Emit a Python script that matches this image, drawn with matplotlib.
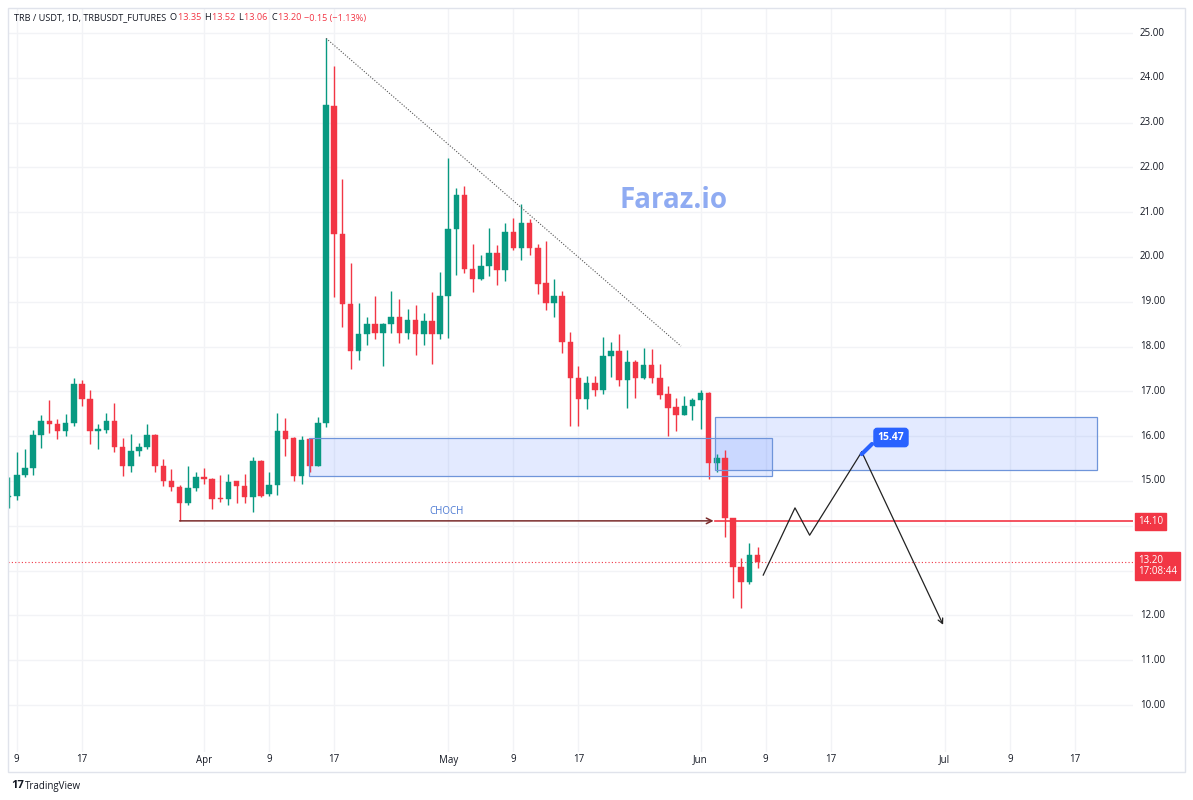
import matplotlib
matplotlib.use("Agg")
import matplotlib.pyplot as plt
from matplotlib.patches import Rectangle
import matplotlib.transforms as mtransforms

plt.rcParams['font.family'] = ['Open Sans', 'DejaVu Sans']

# ---------------- data (day index 0 = Mar 9) ----------------
days = list(range(-1, 92))
opens = [14.64, 14.66, 15.14, 15.30, 16.02, 16.35, 16.28, 16.11, 16.29, 17.17,
         16.84, 16.12, 16.14, 16.33, 15.76, 15.33, 15.66, 15.76, 16.03, 15.34,
         15.01, 14.87, 14.51, 14.84, 15.10, 15.04, 14.60, 14.59, 14.99, 14.89,
         14.64, 15.44, 14.70, 14.90, 16.12, 15.97, 15.12, 15.93, 15.33, 16.29,
         23.37, 20.51, 18.96, 17.91, 18.28, 18.50, 18.31, 18.50, 18.66, 18.31,
         18.59, 18.29, 18.58, 18.28, 19.13, 20.62, 21.38, 19.74, 19.50, 19.80,
         20.09, 19.71, 20.56, 20.21, 20.76, 20.21, 19.41, 18.98, 19.12, 18.11,
         17.29, 16.84, 17.19, 17.03, 17.79, 17.91, 17.25, 17.65, 17.30, 17.58,
         17.29, 16.94, 16.65, 16.48, 16.67, 16.80, 16.97, 15.41, 15.52, 14.17,
         13.09, 12.75, 13.35]
highs = [15.10, 15.65, 15.71, 16.14, 16.48, 16.81, 16.38, 16.49, 17.30, 17.26,
         17.04, 16.28, 16.52, 16.74, 15.95, 16.06, 15.85, 16.28, 16.05, 15.49,
         15.27, 14.92, 15.33, 15.21, 15.29, 15.06, 15.14, 15.16, 15.00, 15.16,
         15.53, 15.47, 15.21, 16.52, 16.40, 15.98, 16.01, 15.94, 16.42, 24.88,
         24.26, 21.75, 19.87, 18.98, 18.65, 19.13, 18.52, 19.25, 19.07, 18.83,
         18.93, 18.74, 19.22, 19.67, 22.20, 21.53, 21.58, 20.30, 20.04, 20.64,
         20.26, 20.76, 20.86, 21.18, 20.84, 20.30, 20.35, 19.52, 19.24, 18.33,
         17.56, 17.34, 17.34, 18.21, 18.10, 18.28, 17.93, 17.71, 17.97, 17.95,
         17.62, 17.12, 16.86, 16.89, 16.86, 17.04, 16.98, 15.60, 15.69, 14.18,
         13.29, 13.61, 13.52]
lows = [14.40, 14.58, 15.10, 15.14, 15.74, 16.08, 15.94, 16.01, 16.22, 16.67,
        15.82, 15.71, 16.08, 15.64, 15.12, 15.21, 15.55, 15.71, 15.21, 14.89,
        14.77, 14.10, 14.47, 14.77, 14.94, 14.37, 14.54, 14.47, 14.52, 14.52,
        14.30, 14.64, 14.67, 14.68, 15.55, 14.99, 14.93, 15.19, 15.33, 16.20,
        19.11, 18.44, 17.51, 17.71, 18.03, 18.18, 17.56, 18.31, 18.07, 18.18,
        17.81, 18.03, 17.62, 18.18, 18.20, 19.60, 19.65, 19.22, 19.49, 19.57,
        19.37, 19.47, 20.15, 19.93, 20.04, 19.17, 18.82, 18.65, 17.86, 16.22,
        16.22, 16.61, 16.89, 16.95, 17.32, 17.13, 16.63, 16.86, 17.28, 17.18,
        16.82, 16.00, 16.11, 16.47, 16.36, 16.16, 15.04, 15.20, 13.74, 12.38,
        12.16, 12.71, 13.06]
closes = [14.66, 15.14, 15.30, 16.02, 16.35, 16.28, 16.11, 16.29, 17.17, 16.84,
          16.12, 16.14, 16.33, 15.76, 15.33, 15.66, 15.76, 16.03, 15.34, 15.01,
          14.87, 14.51, 14.84, 15.10, 15.04, 14.60, 14.59, 14.97, 14.89, 14.64,
          15.44, 14.66, 14.92, 16.12, 15.94, 15.12, 15.92, 15.33, 16.29, 23.39,
          20.51, 18.95, 17.91, 18.28, 18.50, 18.31, 18.50, 18.66, 18.31, 18.59,
          18.29, 18.58, 18.29, 19.13, 20.62, 21.38, 19.73, 19.50, 19.80, 20.09,
          19.71, 20.56, 20.21, 20.76, 20.19, 19.39, 18.98, 19.12, 18.11, 17.29,
          16.84, 17.19, 17.03, 17.79, 17.91, 17.25, 17.65, 17.30, 17.58, 17.29,
          16.93, 16.63, 16.48, 16.67, 16.80, 16.97, 15.41, 15.52, 14.17, 13.09,
          12.75, 13.35, 13.20]

tick_days = [0, 8, 23, 31, 39, 53, 61, 69, 84, 92, 100, 114, 122, 130]
tick_labels = ['9', '17', 'Apr', '9', '17', 'May', '9', '17', 'Jun', '9', '17', 'Jul', '9', '17']
price_ticks = list(range(10, 26))
hidden_price_labels = [13, 14]   # covered by the price tags on the axis

# annotations
trend_days = [38, 81.6]
trend_prices = [24.88, 18.01]
zone1 = (35.9, 92.8, 15.11, 15.96)
zone2 = (85.8, 132.7, 15.25, 16.43)
choch_days = [20, 85.6]
choch_price = 14.11
level_price = 14.10
level_start = 85.8
last_price = 13.20
path_days = [91.7, 95.6, 97.4, 103.8, 113.8]
path_prices = [12.90, 14.40, 13.79, 15.65, 11.79]
target_label = '15.47'

GREEN = '#089981'
RED = '#f23645'
GRID = '#f2f3f6'
TXT = '#131722'

W, H = 1193, 800
fig = plt.figure(figsize=(W / 100, H / 100), dpi=100)
fig.patch.set_facecolor('white')

# frame
fig.patches.append(Rectangle((8 / W, 1 - 772 / H), 1177 / W, 764 / H, transform=fig.transFigure,
                             fill=False, edgecolor='#e0e3eb', linewidth=1.0))

ax_l, ax_r, ax_t, ax_b = 8, 1133, 8, 752
ax = fig.add_axes([ax_l / W, 1 - ax_b / H, (ax_r - ax_l) / W, (ax_b - ax_t) / H])
ax.set_facecolor('none')
for s in ax.spines.values():
    s.set_visible(False)
ax.set_xticks([])
ax.set_yticks([])

# pixel -> data mapping: x = 16.8 + 8.14*d ; y = 33 + (25-p)*44.8
def d_of(px):
    return (px - 16.8) / 8.14

def p_of(py):
    return 25 - (py - 33) / 44.8

ax.set_xlim(d_of(ax_l), d_of(ax_r))
ax.set_ylim(p_of(ax_b), p_of(ax_t))

# grid
for d in tick_days:
    ax.axvline(d, color=GRID, lw=1, zorder=0)
for p in price_ticks:
    ax.axhline(p, color=GRID, lw=1, zorder=0)

# zones
for (d0, d1, p0, p1) in [zone1, zone2]:
    ax.add_patch(Rectangle((d0, p0), d1 - d0, p1 - p0, facecolor='#2962ff', alpha=0.13,
                           edgecolor='none', zorder=1))
    ax.add_patch(Rectangle((d0, p0), d1 - d0, p1 - p0, fill=False,
                           edgecolor='#6f95da', lw=0.9, zorder=4))

# candles
for d, o, h, l, c in zip(days, opens, highs, lows, closes):
    col = GREEN if c >= o else RED
    ax.vlines(d, l, h, color=col, lw=1.0, zorder=2)
    bot = min(o, c)
    ht = max(abs(c - o), 0.03)
    ax.bar(d, ht, bottom=bot, width=0.68, color=col, edgecolor=col, lw=0.3, zorder=3)

# trend line
ax.plot(trend_days, trend_prices, color='#555555', lw=0.8, ls=(0, (1, 1.5)), zorder=5)

# CHOCH
ax.annotate('', xy=(choch_days[1], choch_price), xytext=(choch_days[0], choch_price),
            arrowprops=dict(arrowstyle='->', color='#7a2b2b', lw=1.1, mutation_scale=10,
                            shrinkA=0, shrinkB=0), zorder=5)
ax.text((choch_days[0] + choch_days[1]) / 2, choch_price + 0.08, 'CHOCH', color='#4a78d2',
        fontsize=7, ha='center', va='bottom', zorder=6)

# level line
ax.plot([level_start, d_of(ax_r)], [level_price, level_price], color=RED, lw=1.2, zorder=5)
# last price dotted
ax.axhline(last_price, color=RED, lw=0.8, ls=(0, (1, 2)), zorder=1.5)

# projection path
ax.plot(path_days[:-1], path_prices[:-1], color='#222222', lw=0.9, zorder=6)
ax.annotate('', xy=(path_days[-1], path_prices[-1]), xytext=(path_days[-2], path_prices[-2]),
            arrowprops=dict(arrowstyle='->', color='#222222', lw=0.9, mutation_scale=9,
                            shrinkA=0, shrinkB=0), zorder=6)

# 15.47 label
lx, ly = path_days[3], path_prices[3]
bx, by = d_of(891), p_of(437.5)
ax.plot([lx, d_of(872)], [ly - 0.05, p_of(444)], color='#2962ff', lw=3, solid_capstyle='round', zorder=7)
ax.text(bx, by, target_label, color='white', fontsize=7.5, fontweight='bold', ha='center', va='center',
        zorder=8, bbox=dict(boxstyle='round,pad=0.35,rounding_size=0.3', facecolor='#2962ff',
                            edgecolor='#2962ff'))

# watermark
ax.text(d_of(674), p_of(200), 'Faraz.io', color='#8fabf2', fontsize=20, fontweight='bold',
        ha='center', va='center', zorder=1)

# price axis labels
tr_y = mtransforms.blended_transform_factory(fig.transFigure, ax.transData)
for p in price_ticks:
    if p in hidden_price_labels:
        continue
    fig.text(1140 / W, p, f'{p:.2f}', transform=tr_y, fontsize=7, color=TXT, va='center', ha='left')
fig.text(1138 / W, level_price, f'{level_price:.2f}', transform=tr_y, fontsize=7, color='white',
         va='center', ha='left', zorder=10,
         bbox=dict(boxstyle='square,pad=0.3', facecolor=RED, edgecolor=RED))
fig.text(1138 / W, last_price - 0.1, f'{last_price:.2f}\n17:08:44', transform=tr_y, fontsize=7,
         color='white', va='center', ha='left', zorder=10, linespacing=1.05,
         bbox=dict(boxstyle='square,pad=0.3', facecolor=RED, edgecolor=RED))

# time axis labels
tr_x = mtransforms.blended_transform_factory(ax.transData, fig.transFigure)
for d, lab in zip(tick_days, tick_labels):
    fig.text(d, 1 - 760 / H, lab, transform=tr_x, fontsize=7, color=TXT, ha='center', va='center')

# header
renderer = fig.canvas.get_renderer()
x = 14
y = 1 - 18 / H
pieces = [('TRB / USDT, 1D, TRBUSDT_FUTURES ', TXT), ('O', TXT), ('13.35 ', RED), ('H', TXT),
          ('13.52 ', RED), ('L', TXT), ('13.06 ', RED), ('C', TXT), ('13.20 ', RED),
          ('\u22120.15 (\u22121.13%)', RED)]
for s, col in pieces:
    t = fig.text(x / W, y, s, fontsize=6.6, color=col, ha='left', va='center')
    bb = t.get_window_extent(renderer)
    x = bb.x1 + 1

# TradingView logo
fig.text(11 / W, 1 - 786 / H, '17', fontsize=8, fontweight='bold', color=TXT, ha='left', va='center')
fig.text(25 / W, 1 - 786 / H, 'TradingView', fontsize=7, color=TXT, ha='left', va='center')

fig.savefig('out.png', dpi=100, facecolor='white')
